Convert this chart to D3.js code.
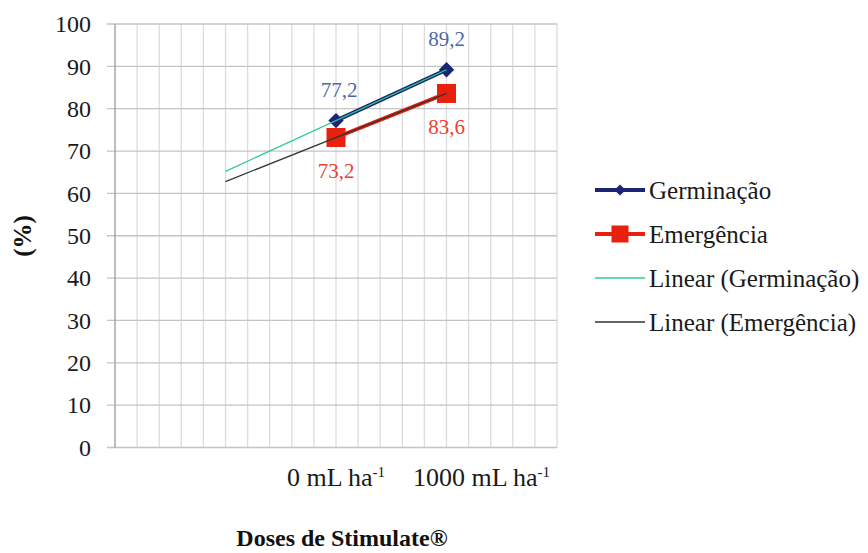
<!DOCTYPE html>
<html><head><meta charset="utf-8">
<script src="https://cdn.jsdelivr.net/npm/d3@7"></script>
<style>body{margin:0;background:#fff}svg{display:block}text{font-family:"Liberation Serif","Times New Roman",serif}</style>
</head><body><svg id="c" width="868" height="553"></svg>
<script>
// Data
const categories = ["0 mL ha-1", "1000 mL ha-1"];
const categoryIndex = [10, 15];          // category slot on the 20-slot axis
const germinacao = [77.2, 89.2];
const emergencia = [73.2, 83.6];
const yTicks = [0,10,20,30,40,50,60,70,80,90,100];
const trendStart = 5;                     // trendline backward forecast start slot
const seriesNames = ["Germinação","Emergência","Linear (Germinação)","Linear (Emergência)"];

const svg = d3.select("#c");
const x = d3.scaleLinear().domain([0,20]).range([115,557]);
const y = d3.scaleLinear().domain([0,100]).range([447.5,24]);

// vertical gridlines
svg.append("g").selectAll("line").data(d3.range(1,21)).join("line")
  .attr("x1",d=>x(d)).attr("x2",d=>x(d)).attr("y1",y(100)).attr("y2",y(0))
  .attr("stroke","#dcdcdc").attr("stroke-width",1.3);
// horizontal gridlines
svg.append("g").selectAll("line").data(yTicks).join("line")
  .attr("x1",107).attr("x2",x(20)).attr("y1",d=>y(d)).attr("y2",d=>y(d))
  .attr("stroke","#c4c4c4").attr("stroke-width",1.3);
// left axis
svg.append("line").attr("x1",x(0)).attr("x2",x(0)).attr("y1",y(100)).attr("y2",y(0))
  .attr("stroke","#9a9a9a").attr("stroke-width",1.3);

// y tick labels
svg.append("g").selectAll("text").data(yTicks).join("text")
  .attr("x",91).attr("y",d=>y(d)).attr("dy","0.34em").attr("text-anchor","end")
  .attr("font-size",24).attr("fill","#1a1a1a").text(d=>d);

// x tick labels with superscript
const xl = svg.append("g").selectAll("text").data(categories).join("text")
  .attr("x",(d,i)=> i===0 ? x(categoryIndex[i]) : x(categoryIndex[i])+35)
  .attr("y",486).attr("text-anchor","middle").attr("font-size",26).attr("fill","#1a1a1a");
xl.append("tspan").text(d=>d.replace("-1",""));
xl.append("tspan").attr("dy",-9).attr("font-size",15).text("-1");

// axis titles
svg.append("text").attr("transform","translate(31,236) rotate(-90)").attr("text-anchor","middle")
  .attr("font-size",25).attr("font-weight","bold").attr("fill","#111").text("(%)");
svg.append("text").attr("x",342).attr("y",546).attr("text-anchor","middle")
  .attr("font-size",24).attr("font-weight","bold").attr("fill","#111").text("Doses de Stimulate®");

// trendlines (least-squares fit on the series)
function fit(vals){
  const xs = categoryIndex, n = xs.length;
  const mx = d3.mean(xs), my = d3.mean(vals);
  const b = d3.sum(xs.map((v,i)=>(v-mx)*(vals[i]-my)))/d3.sum(xs.map(v=>(v-mx)**2));
  const a = my - b*mx;
  return [[trendStart, a+b*trendStart],[xs[n-1], a+b*xs[n-1]]];
}
const line = d3.line().x(d=>x(d[0])).y(d=>y(d[1]));
const gPts = categoryIndex.map((c,i)=>[c,germinacao[i]]);
const ePts = categoryIndex.map((c,i)=>[c,emergencia[i]]);

svg.append("path").attr("d",line(ePts)).attr("fill","none").attr("stroke","#e8210e").attr("stroke-width",4);
svg.append("path").attr("d",line(gPts)).attr("fill","none").attr("stroke","#1b2477").attr("stroke-width",4);

// markers
svg.append("g").selectAll("path").data(gPts).join("path")
  .attr("d",d3.symbol(d3.symbolDiamond2,150)).attr("transform",d=>`translate(${x(d[0])},${y(d[1])})`)
  .attr("fill","#1b2477");
svg.append("g").selectAll("rect").data(ePts).join("rect")
  .attr("x",d=>x(d[0])-9.5).attr("y",d=>y(d[1])-9.5).attr("width",19).attr("height",19)
  .attr("fill","#e8210e");
// trendlines over markers
svg.append("path").attr("d",line(fit(emergencia))).attr("fill","none").attr("stroke","#333").attr("stroke-width",1.3);
svg.append("path").attr("d",line(fit(germinacao))).attr("fill","none").attr("stroke","#2ecc8a").attr("stroke-width",1.3);

// data labels
const fmt = v => String(v).replace(".",",");
svg.append("g").selectAll("text").data(gPts).join("text")
  .attr("x",(d,i)=>x(d[0])+(i===0?3:0)).attr("y",d=>y(d[1])-24).attr("text-anchor","middle")
  .attr("font-size",21).attr("fill","#4f67aa").text(d=>fmt(d[1]));
svg.append("g").selectAll("text").data(ePts).join("text")
  .attr("x",d=>x(d[0])).attr("y",d=>y(d[1])+41).attr("text-anchor","middle")
  .attr("font-size",21).attr("fill","#f0402f").text(d=>fmt(d[1]));

// legend
const lg = svg.append("g");
const ly = [190,234,278,322];
const lcol = ["#1b2477","#e8210e","#2ecc8a","#333"];
const lw = [4,4,1.3,1.3];
seriesNames.forEach((n,i)=>{
  lg.append("line").attr("x1",595).attr("x2",645).attr("y1",ly[i]).attr("y2",ly[i])
    .attr("stroke",lcol[i]).attr("stroke-width",lw[i]);
  if(i===0) lg.append("path").attr("d",d3.symbol(d3.symbolDiamond2,80)).attr("transform",`translate(620,${ly[i]})`).attr("fill",lcol[i]);
  if(i===1) lg.append("rect").attr("x",611.5).attr("y",ly[i]-8.5).attr("width",17).attr("height",17).attr("fill",lcol[i]);
  lg.append("text").attr("x",649).attr("y",ly[i]).attr("dy","0.34em").attr("font-size",25).attr("fill","#1a1a1a").text(n);
});
</script></body></html>
